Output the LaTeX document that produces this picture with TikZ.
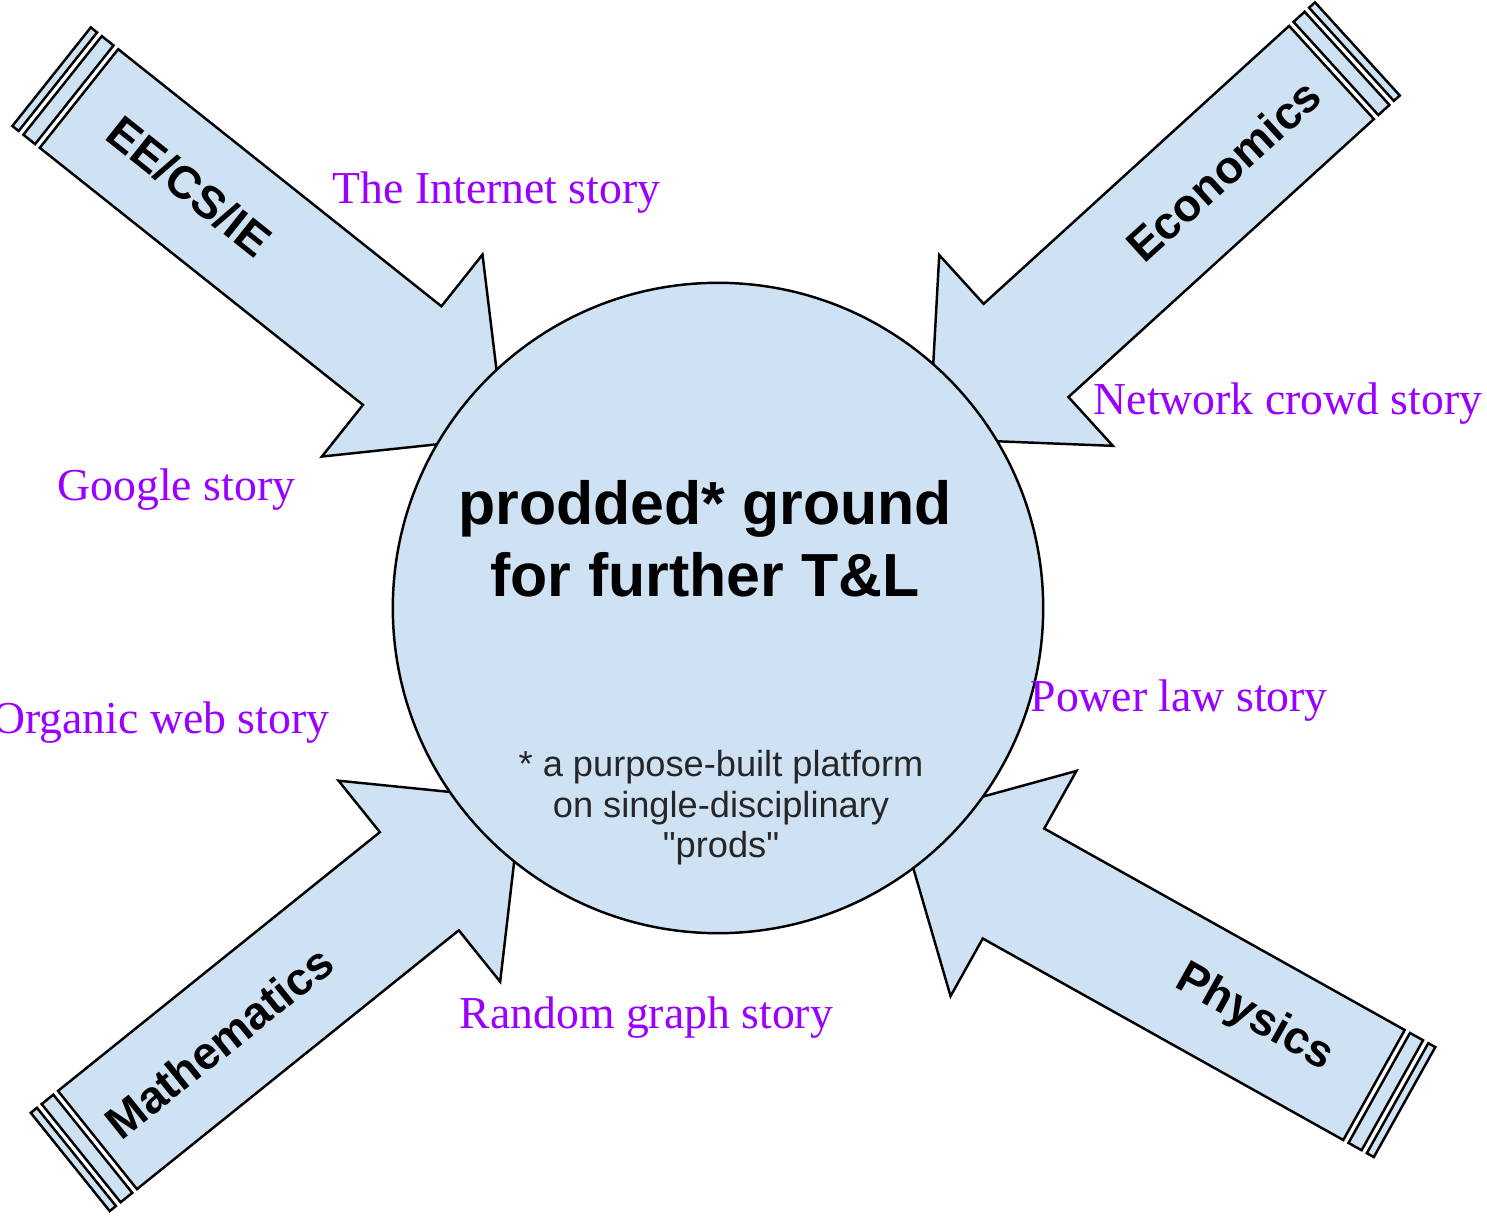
\documentclass[tikz,border=0pt]{standalone}
\usepackage{fontspec}
\setmainfont{Liberation Serif}
\setsansfont{Liberation Sans}
\newfontfamily\plainsans[Ligatures=TeXOff]{Liberation Sans}
\definecolor{prodblue}{RGB}{207,226,243}
\definecolor{storypurple}{RGB}{153,0,255}
\tikzstyle{body}=[draw=black, fill=prodblue, line width=0.7pt, line join=miter]
\tikzstyle{field}=[font=\sffamily\bfseries\fontsize{13}{15}\selectfont, inner sep=0pt]
\tikzstyle{story}=[font=\fontsize{13}{15}\selectfont, text=storypurple, inner sep=0pt]

\newcommand{\prodarrow}[6]{%
	\begin{scope}[shift={#1}, rotate=#2]
		\draw[body] (0,-63) -- (413,-63) -- (413,-129) -- (544,0) -- (413,129) -- (413,63) -- (0,63) -- cycle;
		\draw[body] (-6,-63) rectangle (-21,63);
		\draw[body] (-27,-63) rectangle (-35,63);
		\node[field, rotate=#5] (#3) at (#4,0) {#6};
	\end{scope}}

\begin{document}
\begin{tikzpicture}[x=0.01cm, y=-0.01cm]
	\useasboundingbox (0,0) rectangle (1487,1218);

	\prodarrow{(79,98.5)}{-38.5}{eecs}{141}{-38.5}{EE/CS/IE}
	\prodarrow{(1331.5,72.5)}{222.3}{econ}{146}{42.3}{Economics}
	\prodarrow{(97.5,1140)}{38.8}{math}{156}{38.8}{Mathematics}
	\prodarrow{(1374,1085)}{150.8}{phys}{137}{-29.2}{Physics}

	\node[circle, draw=black, fill=prodblue, line width=0.7pt, minimum size=6.5cm, inner sep=0pt] (ground) at (718,608) {};
	\node[anchor=north, align=center, inner sep=0pt, font=\sffamily\bfseries\fontsize{17.3}{20.5}\selectfont] (headline) at (705,480) {prodded* ground\\for further T\&L};
	\node[anchor=north, align=center, inner sep=0pt, text=black!85, font=\plainsans\fontsize{10.3}{11.5}\selectfont] (footnote) at (721,750) {* a purpose-built platform\\on single-disciplinary\\"prods"};

	\node[story, anchor=base west] (internet) at (332,203) {The Internet story};
	\node[story, anchor=base west] (crowd) at (1093,414) {Network crowd story};
	\node[story, anchor=base west] (google) at (57,500) {Google story};
	\node[story, anchor=base east] (organic) at (330,733) {Organic web story};
	\node[story, anchor=base west] (powerlaw) at (1030,711) {Power law story};
	\node[story, anchor=base west] (random) at (459,1028) {Random graph story};

\end{tikzpicture}
\end{document}
